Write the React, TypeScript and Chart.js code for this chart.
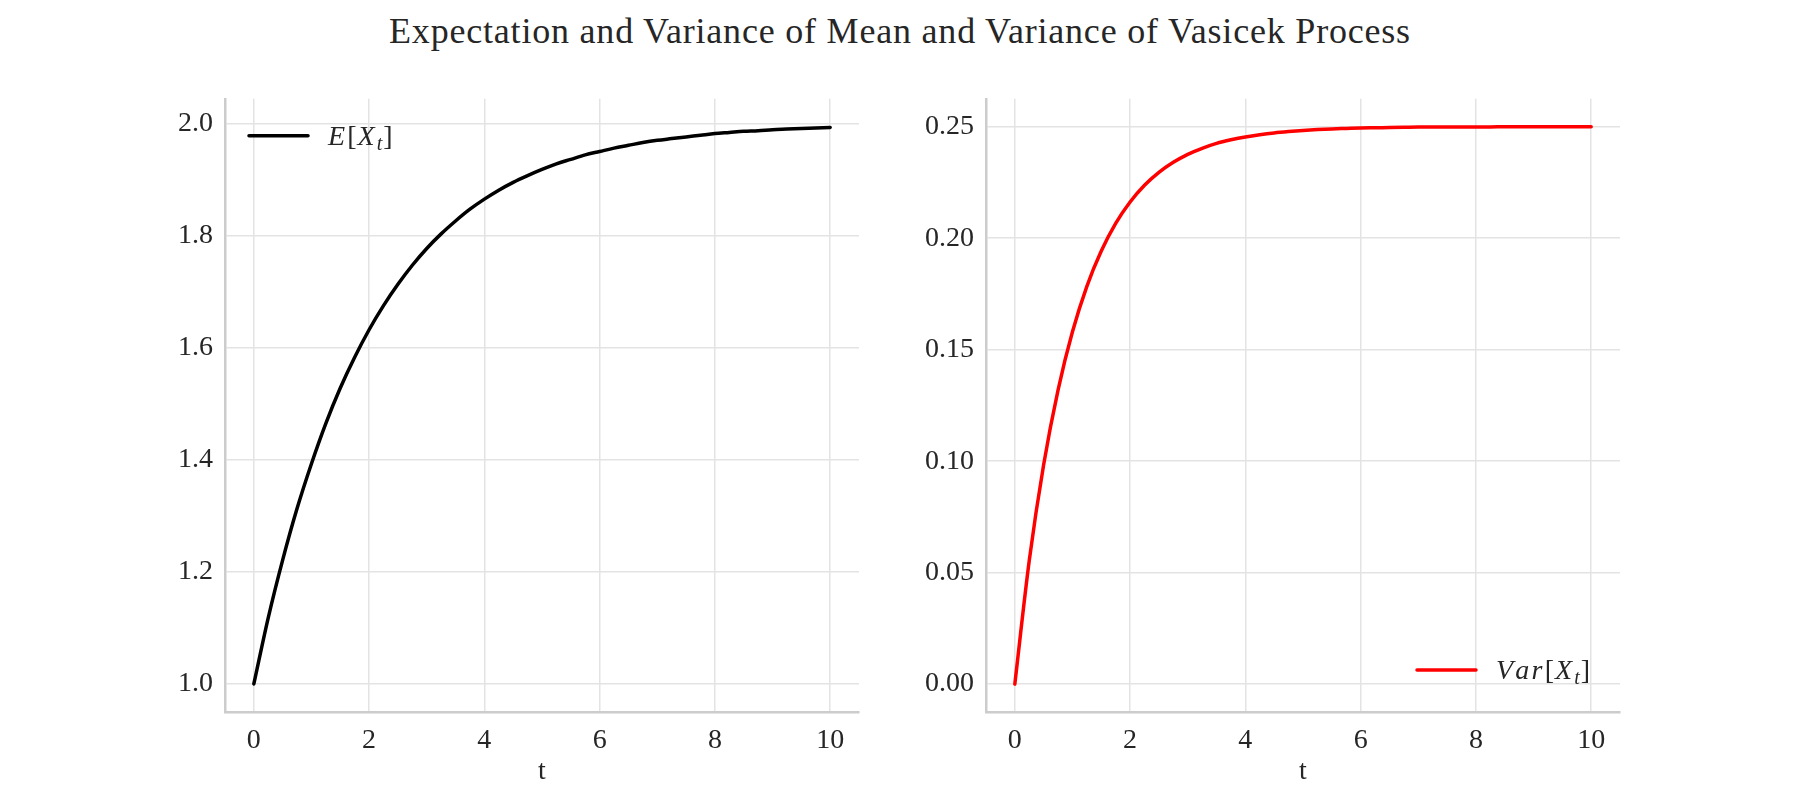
import React, { useEffect, useRef } from "react";
import { Chart, registerables } from "chart.js";

Chart.register(...registerables);

// ---- data ----
const tValues = [
  0, 0.25, 0.5, 0.75, 1, 1.25, 1.5, 1.75, 2, 2.25, 2.5, 2.75, 3, 3.25, 3.5, 3.75, 4, 4.25, 4.5, 4.75, 5,
  5.25, 5.5, 5.75, 6, 6.25, 6.5, 6.75, 7, 7.25, 7.5, 7.75, 8, 8.25, 8.5, 8.75, 9, 9.25, 9.5, 9.75, 10,
];
const meanValues = [
  1.0, 1.118, 1.221, 1.313, 1.393, 1.465, 1.528, 1.583, 1.632, 1.675, 1.713, 1.747, 1.777, 1.803, 1.826,
  1.847, 1.865, 1.881, 1.895, 1.907, 1.918, 1.928, 1.936, 1.944, 1.95, 1.956, 1.961, 1.966, 1.97, 1.973,
  1.976, 1.979, 1.982, 1.984, 1.986, 1.987, 1.989, 1.99, 1.991, 1.992, 1.993,
];
const varValues = [
  0.0, 0.0553, 0.0984, 0.1319, 0.158, 0.1784, 0.1942, 0.2066, 0.2162, 0.2237, 0.2295, 0.234, 0.2376,
  0.2403, 0.2425, 0.2441, 0.2454, 0.2464, 0.2472, 0.2478, 0.2483, 0.2487, 0.249, 0.2492, 0.2494, 0.2495,
  0.2496, 0.2497, 0.2498, 0.2498, 0.2499, 0.2499, 0.2499, 0.2499, 0.25, 0.25, 0.25, 0.25, 0.25, 0.25, 0.25,
];
const xTicks = [0, 2, 4, 6, 8, 10];
const meanTicks = [1.0, 1.2, 1.4, 1.6, 1.8, 2.0];
const varTicks = [0.0, 0.05, 0.1, 0.15, 0.2, 0.25];

const titleText = "Expectation and Variance of Mean and Variance of Vasicek Process";
const xAxisTitle = "t";
type Part = { text: string; italic?: boolean; sub?: boolean };
const meanLabel: Part[] = [
  { text: "E", italic: true },
  { text: "[" },
  { text: "X", italic: true },
  { text: "t", italic: true, sub: true },
  { text: "]" },
];
const varLabel: Part[] = [
  { text: "V", italic: true },
  { text: "a", italic: true },
  { text: "r", italic: true },
  { text: "[" },
  { text: "X", italic: true },
  { text: "t", italic: true, sub: true },
  { text: "]" },
];

// ---- styles ----
const FONT = '"Liberation Serif", "Times New Roman", serif';
const TEXT = "#262626";
const GRID = "#e3e3e3";
const SPINE = "#cccccc";
const FS = 28;

function drawMath(ctx: CanvasRenderingContext2D, parts: Part[], x: number, baseline: number, size: number) {
  let cx = x;
  for (const p of parts) {
    const fs = p.sub ? size * 0.72 : size;
    ctx.font = `${p.italic ? "italic " : ""}${fs}px ${FONT}`;
    const y = baseline + (p.sub ? size * 0.18 : 0);
    ctx.fillText(p.text, cx, y);
    cx += ctx.measureText(p.text).width + (p.italic && !p.sub ? size * 0.08 : size * 0.03);
  }
}

function makeLegendPlugin(parts: Part[], color: string, corner: "tl" | "br") {
  return {
    id: "mathLegend",
    afterDatasetsDraw(chart: any) {
      const { ctx, chartArea } = chart;
      const lineLen = 59;
      let x0: number, y: number;
      if (corner === "tl") {
        x0 = chartArea.left + 24;
        y = chartArea.top + 37;
      } else {
        x0 = chartArea.right - 203;
        y = chartArea.bottom - 42;
      }
      ctx.save();
      ctx.strokeStyle = color;
      ctx.lineWidth = 3.5;
      ctx.lineCap = "round";
      ctx.beginPath();
      ctx.moveTo(x0, y);
      ctx.lineTo(x0 + lineLen, y);
      ctx.stroke();
      ctx.fillStyle = TEXT;
      ctx.textBaseline = "alphabetic";
      ctx.textAlign = "left";
      drawMath(ctx, parts, x0 + lineLen + 20, y + FS * 0.33, FS);
      ctx.restore();
    },
  };
}

function buildConfig(
  values: number[],
  ticksY: number[],
  yMin: number,
  yMax: number,
  decimals: number,
  color: string,
  label: string,
  legend: any
): any {
  return {
    type: "line",
    data: {
      datasets: [
        {
          label,
          data: tValues.map((t, i) => ({ x: t, y: values[i] })),
          borderColor: color,
          backgroundColor: color,
          borderWidth: 3.5,
          pointRadius: 0,
          fill: false,
          cubicInterpolationMode: "monotone",
          borderCapStyle: "round",
        },
      ],
    },
    options: {
      responsive: false,
      animation: false,
      devicePixelRatio: 1,
      layout: { padding: { left: 0, top: 25, right: 21, bottom: 0 } },
      plugins: { legend: { display: false }, tooltip: { enabled: false }, title: { display: false } },
      scales: {
        x: {
          type: "linear",
          min: -0.5,
          max: 10.5,
          afterBuildTicks: (s: any) => {
            s.ticks = xTicks.map((v) => ({ value: v }));
          },
          afterFit: (s: any) => {
            s.height = 78;
          },
          ticks: {
            font: { family: FONT, size: FS },
            color: TEXT,
            padding: 12,
            maxRotation: 0,
            callback: (v: any) => String(v),
          },
          grid: { color: GRID, lineWidth: 1.5, drawTicks: false },
          border: { display: true, color: SPINE, width: 2.5 },
          title: {
            display: true,
            text: xAxisTitle,
            font: { family: FONT, size: FS },
            color: TEXT,
            padding: { top: 0, bottom: 2 },
          },
        },
        y: {
          type: "linear",
          min: yMin,
          max: yMax,
          afterBuildTicks: (s: any) => {
            s.ticks = ticksY.map((v) => ({ value: v }));
          },
          afterFit: (s: any) => {
            s.width = 105;
          },
          ticks: {
            font: { family: FONT, size: FS },
            color: TEXT,
            padding: 12,
            callback: (v: any) => Number(v).toFixed(decimals),
          },
          grid: { color: GRID, lineWidth: 1.5, drawTicks: false },
          border: { display: true, color: SPINE, width: 2.5 },
        },
      },
    },
    plugins: [legend],
  };
}

function Panel(props: { left: number; config: () => any }) {
  const ref = useRef<HTMLCanvasElement | null>(null);
  useEffect(() => {
    if (!ref.current) return;
    const chart = new Chart(ref.current, props.config());
    return () => chart.destroy();
  }, []);
  return (
    <canvas
      ref={ref}
      width={760}
      height={720}
      style={{ position: "absolute", left: props.left, top: 70, width: 760, height: 720 }}
    />
  );
}

export default function App() {
  return (
    <div style={{ position: "absolute", left: 0, top: 0, width: 1800, height: 800, background: "#fff" }}>
      <div
        style={{
          position: "absolute",
          left: 0,
          top: 9,
          width: 1800,
          textAlign: "center",
          fontFamily: FONT,
          fontSize: 36,
          letterSpacing: "0.8px",
          lineHeight: "44px",
          color: TEXT,
        }}
      >
        {titleText}
      </div>
      <Panel
        left={120}
        config={() =>
          buildConfig(meanValues, meanTicks, 0.95, 2.044, 1, "#000000", "E[X_t]", makeLegendPlugin(meanLabel, "#000000", "tl"))
        }
      />
      <Panel
        left={881}
        config={() =>
          buildConfig(varValues, varTicks, -0.0125, 0.2625, 2, "#ff0000", "Var[X_t]", makeLegendPlugin(varLabel, "#ff0000", "br"))
        }
      />
    </div>
  );
}
